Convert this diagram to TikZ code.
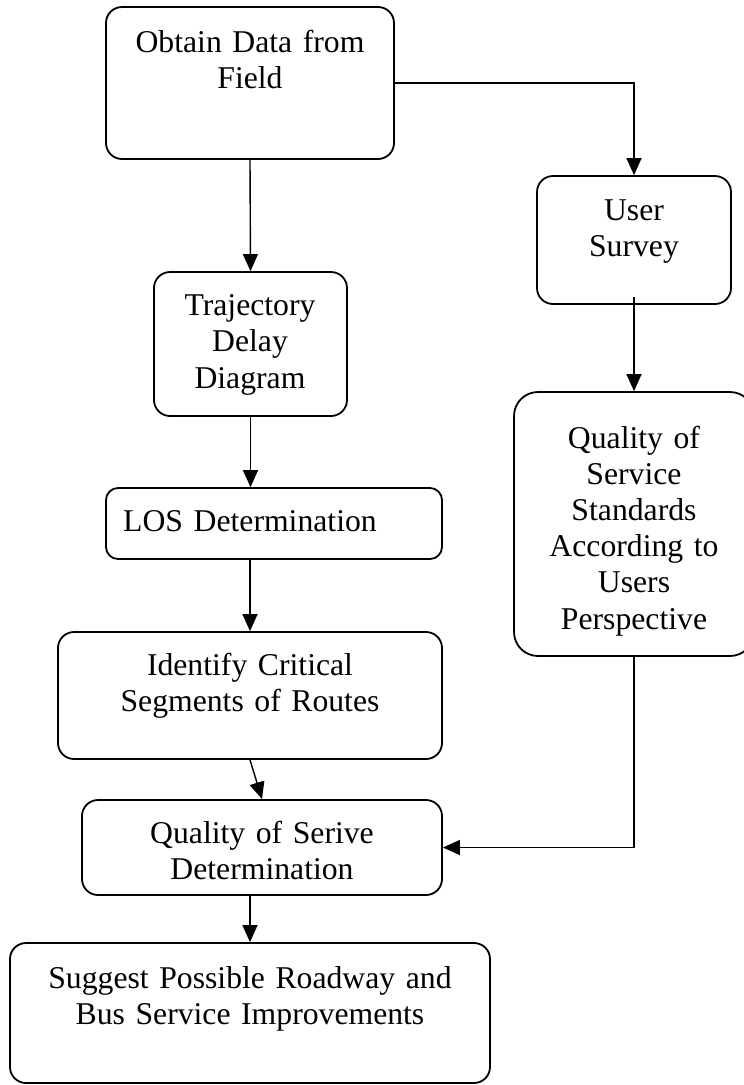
\documentclass[tikz,border=0pt]{standalone}
\usepackage{fontspec}
\setmainfont{Liberation Serif}
\usetikzlibrary{arrows.meta}

\tikzset{
  stagebox/.style={draw, rounded corners=16pt, line width=1.8pt, inner sep=0pt},
  stagetext/.style={anchor=base, text width=500pt, align=center, inner sep=0pt,
    font=\fontsize{31.7}{36.8}\selectfont},
  flow/.style={line width=1.4pt, -{Triangle[length=17pt,width=15pt]}},
}

\begin{document}
\begin{tikzpicture}[x=1pt, y=-1pt]
  \useasboundingbox (0,0) rectangle (744,1085);
  \clip (0,0) rectangle (744,1085);

  % process boxes
  \node[stagebox, minimum width=288pt, minimum height=152pt] (b1) at (250,83) {};
  \node[stagebox, minimum width=194pt, minimum height=128pt] (b2) at (634,240) {};
  \node[stagebox, minimum width=193pt, minimum height=144pt] (b3) at (250.5,344) {};
  \node[stagebox, rounded corners=12pt, minimum width=336pt, minimum height=71pt] (b4) at (274,523.5) {};
  \node[stagebox, rounded corners=24pt, minimum width=240pt, minimum height=264pt] (b5) at (634,524) {};
  \node[stagebox, minimum width=384pt, minimum height=127pt] (b6) at (250,695.5) {};
  \node[stagebox, minimum width=360pt, minimum height=95pt] (b7) at (262,847.5) {};
  \node[stagebox, minimum width=480pt, minimum height=140pt] (b8) at (250,1013) {};

  % box labels (placed on the first baseline)
  \node[stagetext] (t1) at (250,52) {Obtain Data from\\Field};
  \node[stagetext] (t2) at (634,220) {User\\Survey};
  \node[stagetext] (t3) at (250,315) {Trajectory\\Delay\\Diagram};
  \node[stagetext] (t4) at (250,531) {LOS Determination};
  \node[stagetext, font=\fontsize{31.7}{36.2}\selectfont] (t5) at (634,448)
    {Quality of\\Service\\Standards\\According to\\Users\\Perspective};
  \node[stagetext] (t6) at (250,675) {Identify Critical\\Segments of Routes};
  \node[stagetext] (t7) at (262,843) {Quality of Serive\\Determination};
  \node[stagetext] (t8) at (250,988) {Suggest Possible Roadway and\\Bus Service Improvements};

  % connectors
  \draw[flow] (b1.south) -- (b3.north);
  \draw[flow] (b1.east) -| (b2.north);
  \draw[flow] ([yshift=8pt]b2.south) -- (b5.north);
  \draw[flow] (b3.south) -- (b3.south |- b4.north);
  \draw[flow] (b4.south -| b6.north) -- (b6.north);
  \draw[flow] (b6.south) -- (b7.north);
  \draw[flow] (b5.south) |- (b7.east);
  \draw[flow] (b7.south -| b8.north) -- (b8.north);
\end{tikzpicture}
\end{document}
